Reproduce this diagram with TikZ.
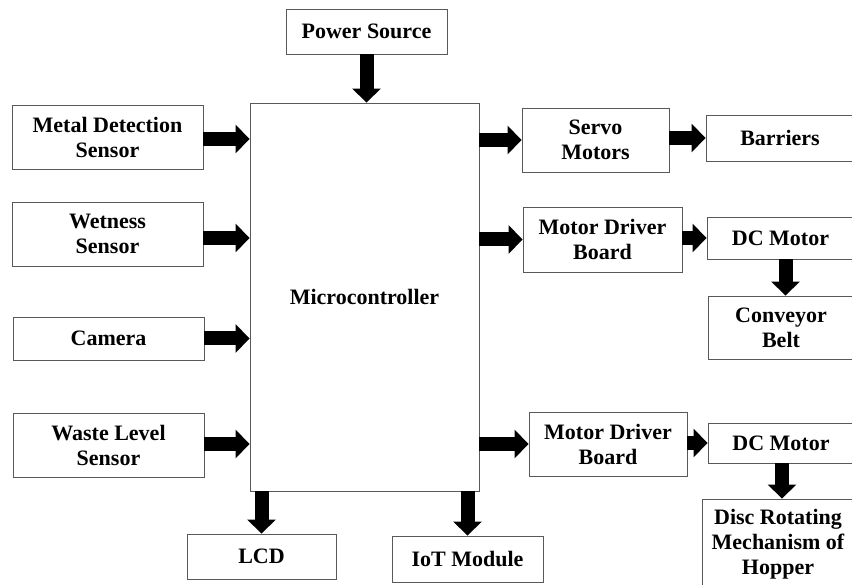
\documentclass[tikz,border=0pt]{standalone}
\usepackage{fontspec}
\setmainfont{Liberation Serif}
\usetikzlibrary{arrows.meta}
\begin{document}
\begin{tikzpicture}[x=1pt,y=-1pt,
  box/.style={draw=black!65, line width=0.9pt, inner sep=0pt, align=center,
    font=\fontsize{22}{25}\selectfont\bfseries},
  flow/.style={line width=14pt, -{Triangle[width=28pt,length=14pt]}}]
\useasboundingbox (0,0) rectangle (852,585);
% nodes
\node[box, minimum width=161pt, minimum height=45pt] (power) at (366.5,31.5) {Power Source};
\node[box, minimum width=229pt, minimum height=388pt] (micro) at (364.5,297) {Microcontroller};
\node[box, minimum width=191pt, minimum height=64pt] (metal) at (107.5,137) {Metal Detection\\Sensor};
\node[box, minimum width=191pt, minimum height=64pt] (wet) at (107.5,234) {Wetness\\Sensor};
\node[box, minimum width=191pt, minimum height=43pt] (cam) at (108.5,338.5) {Camera};
\node[box, minimum width=191pt, minimum height=64pt] (waste) at (108.5,445) {Waste Level\\Sensor};
\node[box, minimum width=149pt, minimum height=45pt] (lcd) at (261.5,556.5) {LCD};
\node[box, minimum width=151pt, minimum height=46pt] (iot) at (467.5,559) {IoT Module};
\node[box, minimum width=147pt, minimum height=64pt] (servo) at (595.5,140) {Servo\\Motors};
\node[box, minimum width=148pt, minimum height=46pt] (barr) at (780,138) {Barriers};
\node[box, minimum width=159pt, minimum height=65pt] (mdbA) at (602.5,239.5) {Motor Driver\\Board};
\node[box, minimum width=147pt, minimum height=42pt] (dcA) at (780.5,238) {DC Motor};
\node[box, minimum width=146pt, minimum height=63pt] (conv) at (781,327.5) {Conveyor\\Belt};
\node[box, minimum width=158pt, minimum height=64pt] (mdbB) at (608,444) {Motor Driver\\Board};
\node[box, minimum width=146pt, minimum height=40pt] (dcB) at (781,443) {DC Motor};
\node[box, minimum width=152pt, minimum height=91pt] (disc) at (778,544.5) {Disc Rotating\\Mechanism of\\Hopper};
% connectors
\draw[flow] (power.south) -- (power.south |- micro.north);
\draw[flow] ([yshift=-2pt]metal.east) -- ([yshift=-2pt]metal.east -| micro.west);
\draw[flow] ([yshift=-4pt]wet.east) -- ([yshift=-4pt]wet.east -| micro.west);
\draw[flow] (cam.east) -- (cam.east -| micro.west);
\draw[flow] ([yshift=1pt]waste.east) -- ([yshift=1pt]waste.east -| micro.west);
\draw[flow] (micro.east |- servo.west) -- (servo.west);
\draw[flow] (servo.east |- barr.west) -- (barr.west);
\draw[flow] (micro.east |- mdbA.west) -- (mdbA.west);
\draw[flow] (mdbA.east |- dcA.west) -- (dcA.west);
\draw[flow] ([xshift=5pt]dcA.south) -- ([xshift=5pt]dcA.south |- conv.north);
\draw[flow] (micro.east |- mdbB.west) -- (mdbB.west);
\draw[flow] (mdbB.east |- dcB.west) -- (dcB.west);
\draw[flow] ([xshift=1pt]dcB.south) -- ([xshift=1pt]dcB.south |- disc.north);
\draw[flow] (micro.south -| lcd.north) -- (lcd.north);
\draw[flow] (micro.south -| iot.north) -- (iot.north);
\end{tikzpicture}
\end{document}
